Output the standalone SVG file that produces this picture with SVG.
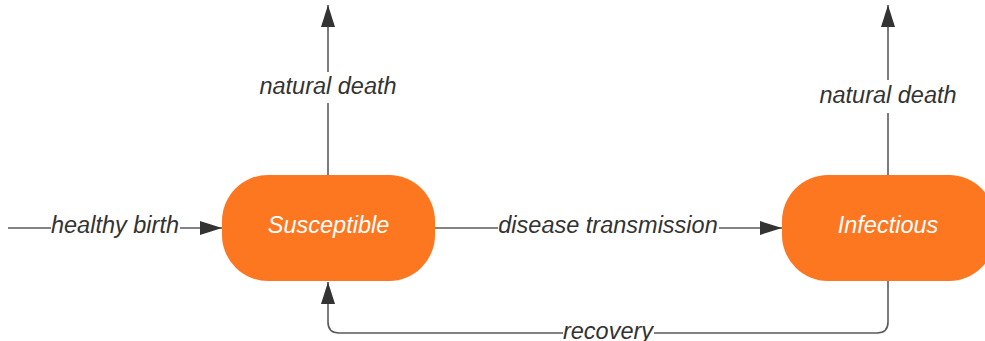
<svg xmlns="http://www.w3.org/2000/svg" width="985" height="341" viewBox="0 0 985 341">
<style>
.node{fill:#fd7620;}
.ntext{font-family:"Liberation Sans",Arial,sans-serif;font-size:23.5px;font-style:italic;fill:#ffffff;text-anchor:middle;}
.edge{fill:none;stroke:#5a5a5a;stroke-width:1.6;}
.label{font-family:"Liberation Sans",Arial,sans-serif;font-size:23.5px;font-style:italic;fill:#333333;text-anchor:middle;}
</style>
<defs>
<marker id="arr" viewBox="0 0 22 14" refX="22" refY="7" markerWidth="22" markerHeight="14" markerUnits="userSpaceOnUse" orient="auto">
<path d="M0,0 L22,7 L0,14 Z" fill="#333333"/>
</marker>
</defs>
<rect width="985" height="341" fill="#ffffff"/>
<g id="connectors">
<g id="e-birth">
<path class="edge" d="M8,228 H51"/>
<path class="edge" d="M180,228 H222" marker-end="url(#arr)"/>
<text class="label" x="115" y="233">healthy birth</text>
</g>
<g id="e-death-s">
<path class="edge" d="M328,175 V103"/>
<path class="edge" d="M328,72 V5" marker-end="url(#arr)"/>
<text class="label" x="328" y="94">natural death</text>
</g>
<g id="e-transmission">
<path class="edge" d="M435,228 H498"/>
<path class="edge" d="M719,228 H782" marker-end="url(#arr)"/>
<text class="label" x="608" y="233">disease transmission</text>
</g>
<g id="e-death-i">
<path class="edge" d="M888,175 V113"/>
<path class="edge" d="M888,80 V5" marker-end="url(#arr)"/>
<text class="label" x="888" y="103">natural death</text>
</g>
<g id="e-recovery">
<path class="edge" d="M888,281 V322 Q888,333 877,333 H654"/>
<path class="edge" d="M563,333 H339 Q328,333 328,322 V282" marker-end="url(#arr)"/>
<text class="label" x="608" y="339">recovery</text>
</g>
</g>
<g id="node-susceptible">
<rect class="node" x="222" y="175" width="213" height="106" rx="46" ry="46"/>
<text class="ntext" x="328.5" y="233">Susceptible</text>
</g>
<g id="node-infectious">
<rect class="node" x="782" y="175" width="213" height="106" rx="46" ry="46"/>
<text class="ntext" x="888" y="233">Infectious</text>
</g>
</svg>
